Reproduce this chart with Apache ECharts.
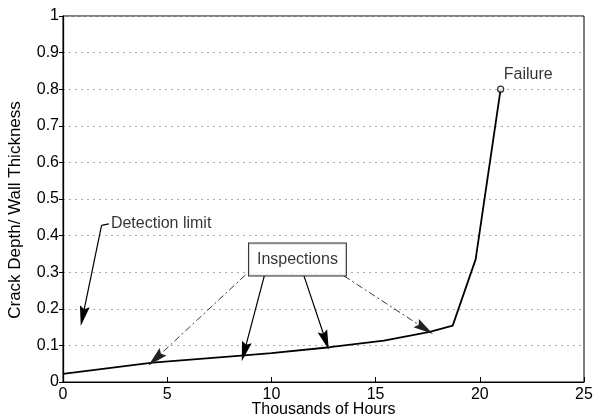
<!DOCTYPE html>
<html>
<head>
<meta charset="utf-8">
<script src="https://cdn.jsdelivr.net/npm/echarts@6/dist/echarts.min.js"></script>
<style>html,body{margin:0;padding:0;background:#fff}#c{width:595px;height:420px}</style>
</head>
<body>
<div id="c"></div>
<script>
// Crack growth curve (thousands of hours, crack depth / wall thickness)
const hours = [0, 4.3, 8.7, 10, 12.8, 15.4, 17.6, 18.7, 19.8, 21];
const depth = [0.022, 0.053, 0.073, 0.079, 0.095, 0.113, 0.137, 0.154, 0.335, 0.8];
const failurePoint = [21, 0.8];
const xTicks = [0, 5, 10, 15, 20, 25];
const yTicks = [0, 0.1, 0.2, 0.3, 0.4, 0.5, 0.6, 0.7, 0.8, 0.9, 1];

// annotation anchors (data coordinates)
const inspectionBox = [11.25, 0.335];
const inspectionArrows = [
  { from: [8.75, 0.292], to: [4.45, 0.064], dashed: true },
  { from: [9.66, 0.29], to: [8.7, 0.083], dashed: false },
  { from: [11.55, 0.292], to: [12.6, 0.114], dashed: false },
  { from: [13.48, 0.29], to: [17.35, 0.146], dashed: true }
];
const detectionLabel = [2.25, 0.433];
const detectionElbow = [[2.2, 0.432], [1.85, 0.428]];
const detectionTip = [0.95, 0.18];
const failureText = [21.15, 0.84];

const FONT = 'Liberation Sans';
const chart = echarts.init(document.getElementById('c'));

const HEAD = 'path://M5,0 L10,20 L5,17 L0,20 Z';
const arrowLines = inspectionArrows.map(a => [
  { coord: a.from, symbol: 'none' },
  { coord: a.to, symbol: HEAD, symbolSize: [10, 20],
    lineStyle: { color: a.dashed ? '#222' : '#000', width: a.dashed ? 0.9 : 1.2,
                 type: a.dashed ? [7, 3, 2, 3] : 'solid' } }
]);
arrowLines.push([
  { coord: detectionElbow[0], symbol: 'none' },
  { coord: detectionElbow[1], symbol: 'none', lineStyle: { color: '#000', width: 1.2, type: 'solid' } }
]);
arrowLines.push([
  { coord: detectionElbow[1], symbol: 'none' },
  { coord: detectionTip, symbol: HEAD, symbolSize: [10, 20], lineStyle: { color: '#000', width: 1.2, type: 'solid' } }
]);

chart.setOption({
  animation: false,
  textStyle: { fontFamily: FONT },
  grid: { left: 63, right: 11, top: 16, bottom: 38, show: true, borderColor: '#000', borderWidth: 1,
          outerBoundsMode: 'none', containLabel: false },
  xAxis: {
    type: 'value', min: xTicks[0], max: xTicks[xTicks.length - 1], interval: 5,
    name: 'Thousands of Hours', nameLocation: 'middle', nameGap: 20, nameMoveOverlap: false,
    nameTextStyle: { color: '#000', fontSize: 16, fontFamily: FONT },
    axisLine: { lineStyle: { color: '#000', width: 1 } },
    axisTick: { inside: true, length: 5, lineStyle: { color: '#000' } },
    axisLabel: { color: '#000', fontSize: 16, fontFamily: FONT, margin: 5 },
    splitLine: { show: false }
  },
  yAxis: {
    type: 'value', min: yTicks[0], max: yTicks[yTicks.length - 1], interval: 0.1,
    name: 'Crack Depth/ Wall Thickness', nameLocation: 'middle', nameGap: 39, nameMoveOverlap: false,
    nameTextStyle: { color: '#000', fontSize: 17, fontFamily: FONT, padding: [0, 22, 0, 0] },
    axisLine: { show: true, lineStyle: { color: '#000', width: 1.3 } },
    axisTick: { show: true, length: 4, lineStyle: { color: '#000' } },
    axisLabel: { color: '#000', fontSize: 16, fontFamily: FONT, margin: 4 },
    splitLine: { show: true, lineStyle: { color: '#aaa', type: [2, 4], width: 1 } }
  },
  series: [
    {
      type: 'line', data: hours.map((h, i) => [h, depth[i]]),
      symbol: 'none', lineStyle: { color: '#000', width: 1.8 },
      markLine: { silent: true, animation: false, label: { show: false }, data: arrowLines }
    },
    {
      type: 'scatter', data: [failurePoint], symbol: 'circle', symbolSize: 6,
      itemStyle: { color: '#fff', borderColor: '#000', borderWidth: 1.3 }, z: 5
    },
    {
      type: 'scatter', symbolSize: 0, silent: true,
      data: [
        { value: detectionLabel, label: { show: true, formatter: 'Detection limit', position: 'right', distance: 1 } },
        { value: failureText, label: { show: true, formatter: 'Failure', position: 'right', distance: 0 } },
        { value: inspectionBox, label: { show: true, formatter: 'Inspections', position: 'inside',
            backgroundColor: '#fff', borderColor: '#000', borderWidth: 1, padding: [8, 8, 8, 8] } }
      ],
      label: { color: '#000', fontSize: 16, fontFamily: FONT }, z: 6
    }
  ]
});
</script>
</body>
</html>
